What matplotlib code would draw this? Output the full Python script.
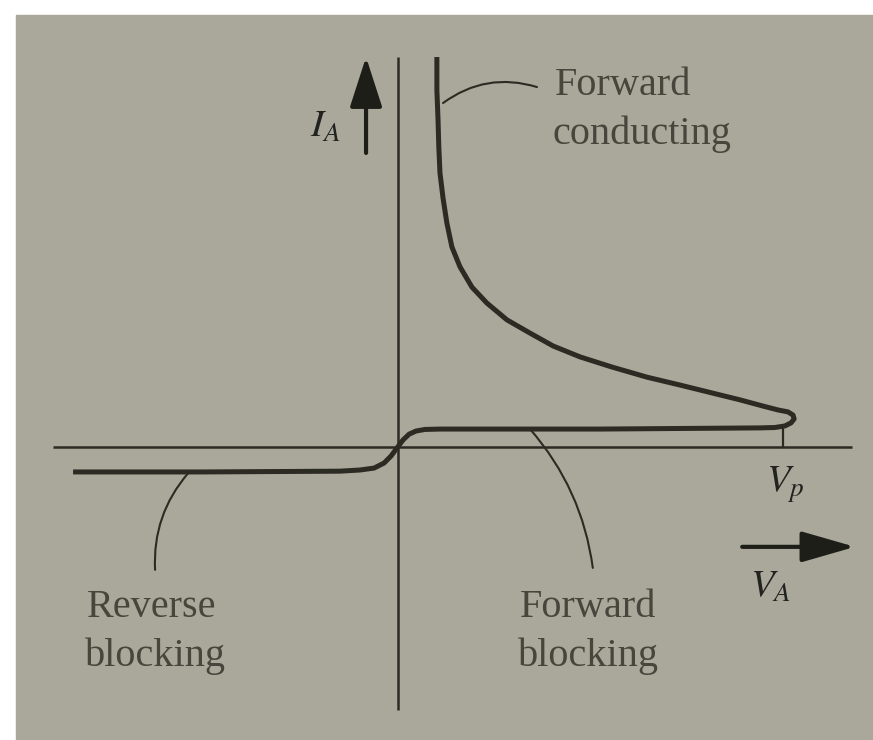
import numpy as np
import matplotlib.pyplot as plt
from matplotlib.patches import Rectangle

# thyristor I-V sketch: V scaled so that V_p = 1, I scaled so top of sketch = 1
v_ak = [-0.844, -0.514, -0.151, -0.099, -0.062, -0.036, -0.018, -0.003, 0.013,
        0.029, 0.047, 0.070, 0.109, 0.525, 0.940, 0.979, 1.005, 1.021, 1.029,
        1.026, 1.013, 0.987, 0.948, 0.888, 0.818, 0.732, 0.647, 0.556, 0.473,
        0.403, 0.343, 0.283, 0.231, 0.192, 0.161, 0.140, 0.127, 0.117, 0.109,
        0.106, 0.104, 0.101, 0.101]
i_a = [-0.064, -0.064, -0.062, -0.059, -0.054, -0.041, -0.023, -0.003, 0.018,
       0.033, 0.041, 0.045, 0.046, 0.046, 0.049, 0.050, 0.054, 0.062, 0.072,
       0.082, 0.090, 0.095, 0.105, 0.121, 0.138, 0.159, 0.179, 0.205, 0.231,
       0.259, 0.292, 0.326, 0.369, 0.410, 0.462, 0.513, 0.574, 0.638, 0.703,
       0.769, 0.838, 0.915, 1.000]

v_p = 1.0
i_blocking = 0.046
i_axis = (-0.674, 1.0)
v_axis = (-0.896, 1.179)

region_names = ['Forward\nconducting', 'Reverse\nblocking', 'Forward\nblocking']

BG = '#a9a89a'
INK = '#2b2b24'
TXT = '#46463d'

plt.rcParams['mathtext.fontset'] = 'stix'

fig = plt.figure(figsize=(8.73, 7.40), dpi=100)
fig.patches.append(Rectangle((16 / 873, 0), 1 - 16 / 873, 725 / 740,
                             transform=fig.transFigure, color=BG, zorder=-10))

ax = fig.add_axes([0, 0, 1, 1])
ax.set_axis_off()
ax.set_xlim(-1.0338, 1.2338)
ax.set_ylim(-0.7513, 1.1462)

# axes of the sketch
ax.plot([0, 0], i_axis, color=INK, lw=1.8, solid_capstyle='butt')
ax.plot(v_axis, [0, 0], color=INK, lw=1.8, solid_capstyle='butt')
ax.plot([v_p, v_p], [0, i_blocking], color=INK, lw=1.6)

# characteristic
ax.plot(v_ak, i_a, color=INK, lw=3.6, solid_joinstyle='round',
        solid_capstyle='butt')

# direction arrows
ax.annotate('', xy=(-0.083, 1.0), xytext=(-0.083, 0.754),
            arrowprops=dict(arrowstyle='-|>,head_length=3.1,head_width=1.0',
                            mutation_scale=10, color='#1e1e19', lw=3,
                            shrinkA=0, shrinkB=0))
ax.annotate('', xy=(1.187, -0.256), xytext=(0.894, -0.256),
            arrowprops=dict(arrowstyle='-|>,head_length=3.3,head_width=0.95',
                            mutation_scale=10, color='#1e1e19', lw=3,
                            shrinkA=0, shrinkB=0))

# leader lines
leader = dict(arrowstyle='-', color=INK, lw=1.5, shrinkA=0, shrinkB=0)
ax.annotate('', xy=(0.361, 0.923), xytext=(0.117, 0.882),
            arrowprops=dict(leader, connectionstyle='arc3,rad=-0.25'))
ax.annotate('', xy=(-0.631, -0.315), xytext=(-0.545, -0.067),
            arrowprops=dict(leader, connectionstyle='arc3,rad=0.2'))
ax.annotate('', xy=(0.506, -0.310), xytext=(0.343, i_blocking),
            arrowprops=dict(leader, connectionstyle='arc3,rad=-0.15'))

# region names
font = dict(family='Liberation Serif', fontsize=29, color=TXT, va='baseline')
name_pos = [(0.408, 0.903), (-0.808, -0.436), (0.317, -0.436)]
for name, (x, y) in zip(region_names, name_pos):
    first, second = name.split('\n')
    ax.text(x, y, first, **font)
    ax.text(x - 0.006, y - 0.125, second, **font)

# axis labels
math = dict(fontsize=28, color='#222220', va='baseline')
ax.text(-0.228, 0.795, r'$I_A$', **math)
ax.text(0.915, -0.385, r'$V_A$', **math)
ax.text(0.955, -0.115, r'$V_p$', **math)

fig.savefig('out.png', dpi=100, facecolor='white')
